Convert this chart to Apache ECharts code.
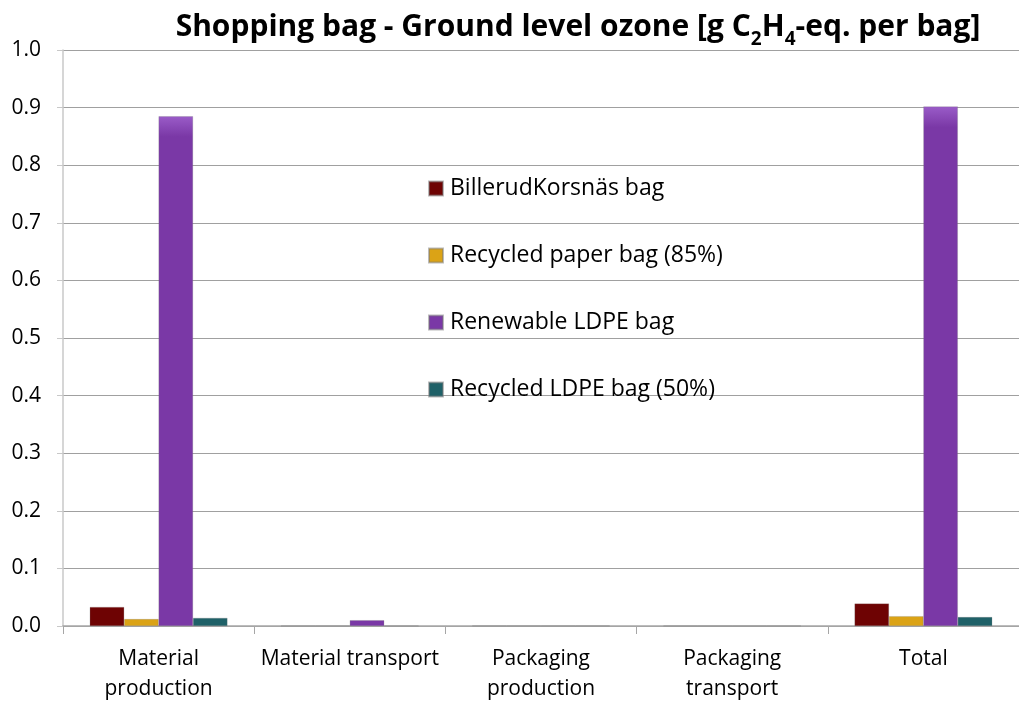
<!DOCTYPE html>
<html>
<head>
<meta charset="utf-8">
<script src="https://cdn.jsdelivr.net/npm/echarts@6/dist/echarts.min.js"></script>
<style>html,body{margin:0;padding:0;background:#fff;overflow:hidden}#c{width:1019px;height:704px}</style>
</head>
<body>
<div id="c"></div>
<script>
const categories = ['Material\nproduction', 'Material transport', 'Packaging\nproduction', 'Packaging\ntransport', 'Total'];
const seriesNames = ['BillerudKorsnäs bag', 'Recycled paper bag (85%)', 'Renewable LDPE bag', 'Recycled LDPE bag (50%)'];
const billerud = [0.033, 0.0003, 0.0005, 0.0003, 0.039];
const recycledPaper = [0.012, 0.0003, 0.0005, 0.0003, 0.017];
const renewableLDPE = [0.885, 0.010, 0.0005, 0.0003, 0.902];
const recycledLDPE = [0.014, 0.0003, 0.0005, 0.0003, 0.0155];
const yTicks = [0, 0.1, 0.2, 0.3, 0.4, 0.5, 0.6, 0.7, 0.8, 0.9, 1.0];

const colors = ['#6e0303', '#dba316', '#7a38a6', '#1f6168'];
const lights = ['#a33333', '#f5c842', '#9a5cc8', '#3f8a92'];
const font = 'Open Sans, Noto Sans, sans-serif';

function mkSeries(name, data, i) {
  return {
    name: name,
    type: 'bar',
    data: data,
    barGap: '0%',
    barCategoryGap: '28%',
    itemStyle: {
      color: {
        type: 'linear', x: 0, y: 0, x2: 0, y2: 1,
        colorStops: [
          {offset: 0, color: lights[i]},
          {offset: 0.04, color: colors[i]},
          {offset: 1, color: colors[i]}
        ]
      },
      borderColor: 'rgba(120,120,120,0.5)',
      borderWidth: 0.5
    }
  };
}

const chart = echarts.init(document.getElementById('c'), null, {width: 1019, height: 704});
chart.setOption({
  animation: false,
  backgroundColor: '#fff',
  color: colors,
  title: {
    text: '{t|Shopping bag - Ground level ozone [g C}{s|2}{t|H}{s|4}{t|-eq. per bag]}',
    left: 573, top: 7, textAlign: 'center',
    textStyle: {
      rich: {
        t: {fontFamily: font, fontWeight: 'bold', fontSize: 30, color: '#000', verticalAlign: 'bottom'},
        s: {fontFamily: font, fontWeight: 'bold', fontSize: 19, color: '#000', verticalAlign: 'bottom', padding: [0,0,-7,0]}
      }
    }
  },
  legend: {
    orient: 'vertical',
    left: 428, top: 177, padding: 0,
    itemWidth: 14, itemHeight: 14, itemGap: 44,
    icon: 'rect',
    textStyle: {fontFamily: font, fontSize: 23, color: '#000', padding: [0,0,0,2]},
    data: seriesNames
  },
  grid: {left: 63, right: -12, top: 50, bottom: 73, containLabel: false},
  xAxis: {
    type: 'category',
    data: categories,
    axisLine: {lineStyle: {color: '#a6a6a6', width: 1.5}},
    axisTick: {show: true, alignWithLabel: false, length: 8, lineStyle: {color: '#a6a6a6'}},
    axisLabel: {fontFamily: font, fontSize: 21, color: '#000', margin: 18, lineHeight: 30, interval: 0}
  },
  yAxis: {
    type: 'value',
    min: 0, max: 1, interval: 0.1,
    axisLine: {show: true, lineStyle: {color: '#c8c8c8', width: 1.5}},
    axisTick: {show: true, length: 6, lineStyle: {color: '#c8c8c8'}},
    splitLine: {lineStyle: {color: '#a0a0a0', width: 1}},
    axisLabel: {fontFamily: font, fontSize: 21, color: '#000', margin: 22,
      formatter: v => yTicks.includes(Math.round(v*10)/10) ? v.toFixed(1) : ''}
  },
  series: [
    mkSeries(seriesNames[0], billerud, 0),
    mkSeries(seriesNames[1], recycledPaper, 1),
    mkSeries(seriesNames[2], renewableLDPE, 2),
    mkSeries(seriesNames[3], recycledLDPE, 3)
  ]
});
</script>
</body>
</html>
